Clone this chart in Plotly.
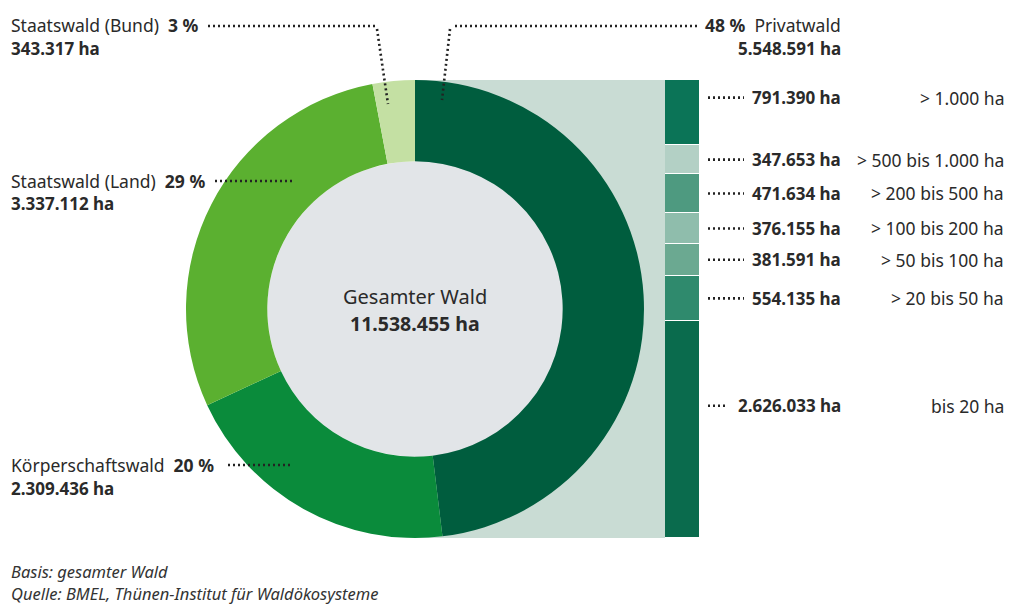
import plotly.graph_objects as go

W, H = 1009, 605

# ---------------- data ----------------
owner_labels = ["Privatwald", "Körperschaftswald", "Staatswald (Land)", "Staatswald (Bund)"]
owner_ha = [5548591, 2309436, 3337112, 343317]
owner_pct = [48, 20, 29, 3]
owner_ha_text = ["5.548.591 ha", "2.309.436 ha", "3.337.112 ha", "343.317 ha"]
owner_colors = ["#005d3e", "#0a8b3b", "#5bb030", "#c4e0a3"]

size_labels = ["> 1.000 ha", "> 500 bis 1.000 ha", "> 200 bis 500 ha", "> 100 bis 200 ha",
               "> 50 bis 100 ha", "> 20 bis 50 ha", "bis 20 ha"]
size_ha = [791390, 347653, 471634, 376155, 381591, 554135, 2626033]
size_ha_text = ["791.390 ha", "347.653 ha", "471.634 ha", "376.155 ha",
                "381.591 ha", "554.135 ha", "2.626.033 ha"]
size_colors = ["#0b7457", "#b3d0c5", "#4e9a80", "#8fbdac", "#6ba991", "#2f8a6d", "#0a6b4d"]
label_frac = [0.27, 0.5, 0.5, 0.5, 0.5, 0.5, 0.39]

total_label = "Gesamter Wald"
total_text = "11.538.455 ha"
notes = ["Basis: gesamter Wald", "Quelle: BMEL, Thünen-Institut für Waldökosysteme"]

# ---------------- helpers ----------------
def px(x):
    return x / W

def py(y):
    return 1 - y / H

FONT = "Noto Sans"
TXT = "#2a2a2a"
FS = 17.5   # regular text
FB = 17     # bold text

top, bottom = 80, 538
left, right = 186, 644
cx = (left + right) / 2
cy = (top + bottom) / 2
R = (right - left) / 2
hole = 0.645
bar_x0, bar_x1 = 665, 700

fig = go.Figure()

fig.add_trace(go.Pie(
    labels=owner_labels, values=owner_ha, sort=False, direction="clockwise", rotation=0,
    hole=hole, marker=dict(colors=owner_colors, line=dict(width=0)),
    textinfo="none", hoverinfo="label+value", showlegend=False,
    domain=dict(x=[px(left), px(right)], y=[py(bottom), py(top)])
))

for lab, val, col in zip(size_labels, size_ha, size_colors):
    fig.add_trace(go.Bar(
        x=[0], y=[val], name=lab, marker=dict(color=col, line=dict(color="white", width=1.5)),
        showlegend=False, hoverinfo="name+y", xaxis="x", yaxis="y"
    ))

total_priv = sum(size_ha)

shapes = []
shapes.append(dict(type="rect", xref="paper", yref="paper", layer="below",
                   x0=px(cx), x1=px(bar_x0), y0=py(bottom), y1=py(top),
                   fillcolor="#c9dcd4", line=dict(width=0)))
r_in = R * hole
shapes.append(dict(type="circle", xref="paper", yref="paper", layer="below",
                   x0=px(cx - r_in), x1=px(cx + r_in), y0=py(cy + r_in), y1=py(cy - r_in),
                   fillcolor="#e2e5e8", line=dict(width=0)))

DOT = dict(color="#222222", width=2.6, dash="2px,3px")

def seg(x0, y0, x1, y1):
    shapes.append(dict(type="line", xref="paper", yref="paper", layer="above",
                       x0=px(x0), y0=py(y0), x1=px(x1), y1=py(y1), line=DOT))

seg(208, 26, 376, 26); seg(377, 29, 388, 104)
seg(455, 26, 697, 26); seg(450, 29, 442, 100)
seg(215, 181, 292, 181)
seg(228, 465, 292, 465)

annotations = []

def txt(x, y, text, anchor="left", size=FS, color=TXT):
    annotations.append(dict(x=px(x), y=py(y), xref="paper", yref="paper", text=text,
                            showarrow=False, xanchor=anchor, yanchor="middle",
                            font=dict(family=FONT, size=size, color=color)))

SP = "&nbsp;&nbsp;"
txt(9, 25, f"{owner_labels[3]}{SP}<b>{owner_pct[3]} %</b>")
txt(9, 48, f"<b>{owner_ha_text[3]}</b>", size=FB)
txt(843, 25, f"<b>{owner_pct[0]} %</b>{SP}{owner_labels[0]}", anchor="right")
txt(843, 48, f"<b>{owner_ha_text[0]}</b>", anchor="right", size=FB)
txt(9, 181, f"{owner_labels[2]}{SP}<b>{owner_pct[2]} %</b>")
txt(9, 203, f"<b>{owner_ha_text[2]}</b>", size=FB)
txt(9, 465, f"{owner_labels[1]}{SP}<b>{owner_pct[1]} %</b>")
txt(9, 488, f"<b>{owner_ha_text[1]}</b>", size=FB)

txt(cx, cy - 13, total_label, anchor="center", size=20)
txt(cx, cy + 14, f"<b>{total_text}</b>", anchor="center", size=19.5)

cum = 0
for i, (val, vt, lab) in enumerate(zip(size_ha, size_ha_text, size_labels)):
    ypos = cum + val * label_frac[i]
    cum += val
    annotations.append(dict(x=px(843), y=ypos, xref="paper", yref="y", text=f"<b>{vt}</b>",
                            showarrow=False, xanchor="right", yanchor="middle",
                            font=dict(family=FONT, size=FB, color=TXT)))
    annotations.append(dict(x=px(1006), y=ypos, xref="paper", yref="y", text=lab,
                            showarrow=False, xanchor="right", yanchor="middle",
                            font=dict(family=FONT, size=FS, color=TXT)))
    end = 728 if len(vt) > 10 else 744
    shapes.append(dict(type="line", xref="paper", yref="y", layer="above",
                       x0=px(708), x1=px(end), y0=ypos, y1=ypos, line=DOT))

txt(9, 571, f"<i>{notes[0]}</i>", size=16.5, color="#333333")
txt(9, 593, f"<i>{notes[1]}</i>", size=16.5, color="#333333")

fig.update_layout(
    width=W, height=H, margin=dict(l=0, r=0, t=0, b=0),
    paper_bgcolor="white", plot_bgcolor="rgba(0,0,0,0)",
    barmode="stack", bargap=0,
    xaxis=dict(domain=[px(bar_x0), px(bar_x1)], range=[-0.5, 0.5], visible=False, fixedrange=True),
    yaxis=dict(domain=[py(bottom), py(top)], range=[total_priv, 0], visible=False, fixedrange=True),
    shapes=shapes, annotations=annotations, showlegend=False,
    font=dict(family=FONT, color=TXT),
)

fig.write_html(
    "out.html",
    config={"displayModeBar": False},
    post_script="document.body.style.margin='0';document.body.style.overflow='hidden';",
)
